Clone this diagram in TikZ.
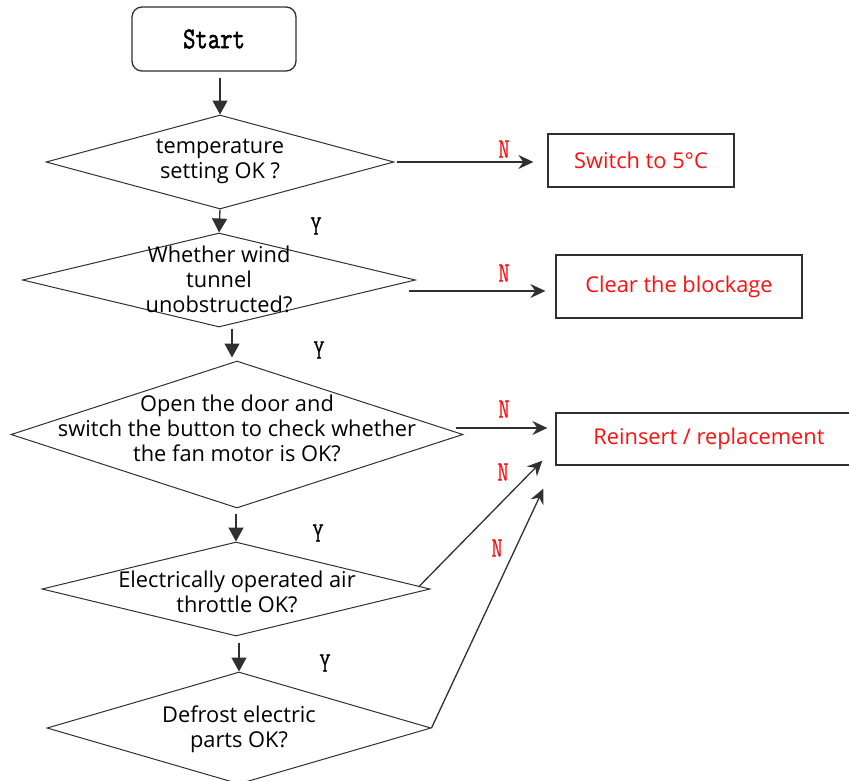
\documentclass[tikz,border=0pt]{standalone}
\usepackage{fontspec}
\setmainfont{Open Sans}
\newfontfamily\startfont{Latin Modern Mono}[FakeBold=2]
\newfontfamily\labfont{Latin Modern Mono}[FakeBold=0.4]
\usetikzlibrary{arrows.meta,shapes.geometric,calc}
\definecolor{linec}{HTML}{303030}
\definecolor{redtxt}{HTML}{FF1010}
\begin{document}
\begin{tikzpicture}[x=1pt,y=1pt,
  dnode/.style={diamond, draw=linec, line width=1pt, inner sep=0pt, minimum width=#1},
  tbox/.style={rectangle, draw=linec, line width=1.3pt, inner sep=0pt, text=redtxt,
    font=\fontsize{21.8}{25}\selectfont},
  txt/.style={align=center, inner sep=0pt, font=\fontsize{21.8}{25}\selectfont},
  ylab/.style={inner sep=0pt, font=\labfont\fontsize{22}{22}\selectfont},
  nlab/.style={ylab, text=redtxt},
  varr/.style={draw=linec, line width=1.3pt, -{Triangle[width=15pt,length=14pt]}},
  narr/.style={draw=linec, line width=1.3pt, -{Stealth[length=15pt,width=14pt,inset=5pt]}}
]
\useasboundingbox (0,0) rectangle (849,-780);

% start
\node[draw=linec, line width=1.3pt, rounded corners=10pt, minimum width=164pt, minimum height=64pt,
  inner sep=0pt] (start) at (214,-39) {\raisebox{-2pt}{\scalebox{1}[1.25]{\startfont\fontsize{24}{24}\selectfont Start}}};

% diamonds
\node[dnode=348pt, minimum height=94pt] (d1) at (220,-162) {};
\node[dnode=393pt, minimum height=94pt] (d2) at (219,-280) {};
\node[dnode=452pt, minimum height=147pt] (d3) at (237,-434.5) {};
\node[dnode=388pt, minimum height=94pt] (d4) at (236,-589) {};
\node[dnode=384pt, minimum height=112pt] (d5) at (239,-728) {};

\node[txt] (t1) at (220,-161) {temperature\\setting OK ?};
\node[txt] (t2) at (219,-279) {Whether wind\\tunnel\\unobstructed?};
\node[txt] (t3) at (237,-428) {Open the door and\\switch the button to check whether\\the fan motor is OK?};
\node[txt] (t4) at (237,-592) {Electrically operated air\\throttle OK?};
\node[txt] (t5) at (239,-729) {Defrost electric\\parts OK?};

% boxes
\node[tbox, minimum width=186pt, minimum height=53pt] (s1) at (641,-160.5) {Switch to 5°C};
\node[tbox, minimum width=246pt, minimum height=63pt] (s2) at (679,-286.5) {Clear the blockage};
\node[tbox, minimum width=306pt, minimum height=52pt] (s3) at (709,-439) {Reinsert / replacement};

% vertical arrows
\draw[varr] ([yshift=-6pt]start.south -| d1.north) -- (d1.north);
\draw[varr] (d1.south) -- (d2.north);
\draw[varr] ([xshift=-5pt,yshift=-1pt]d3.north |- d2.south) -- ([xshift=-5pt,yshift=3pt]d3.north);
\draw[varr] ([yshift=-5pt]d3.south -| d4.north) -- (d4.north);
\draw[varr] ([yshift=-6pt]d4.south -| d5.north) -- (d5.north);

% N arrows
\draw[narr] ([xshift=2pt]d1.east) -- ([xshift=-14pt]s1.west |- d1.east);
\draw[narr] ([xshift=-7pt,yshift=-11pt]d2.east) -- ([xshift=-10pt,yshift=-4.5pt]s2.west);
\draw[narr] ([xshift=-8pt,yshift=6.5pt]d3.east) -- ([xshift=-8pt,yshift=11pt]s3.west);
\draw[narr] ([xshift=-12pt,yshift=2pt]d4.east) -- ([xshift=-13pt,yshift=5pt]s3.south west);
\draw[narr] (d5.east) -- ([xshift=-12pt,yshift=-23pt]s3.south west);

% labels
\node[ylab] (y1) at (316,-226) {\scalebox{1}[1.3]{Y}};
\node[ylab] (y2) at (319,-350) {\scalebox{1}[1.3]{Y}};
\node[ylab] (y3) at (318,-533) {\scalebox{1}[1.3]{Y}};
\node[ylab] (y4) at (325,-663) {\scalebox{1}[1.3]{Y}};
\node[nlab] (n1) at (504,-149) {\scalebox{1}[1.3]{N}};
\node[nlab] (n2) at (504,-273) {\scalebox{1}[1.3]{N}};
\node[nlab] (n3) at (504,-409) {\scalebox{1}[1.3]{N}};
\node[nlab] (n4) at (503,-472) {\scalebox{1}[1.3]{N}};
\node[nlab] (n5) at (497,-548) {\scalebox{1}[1.3]{N}};
\end{tikzpicture}
\end{document}
